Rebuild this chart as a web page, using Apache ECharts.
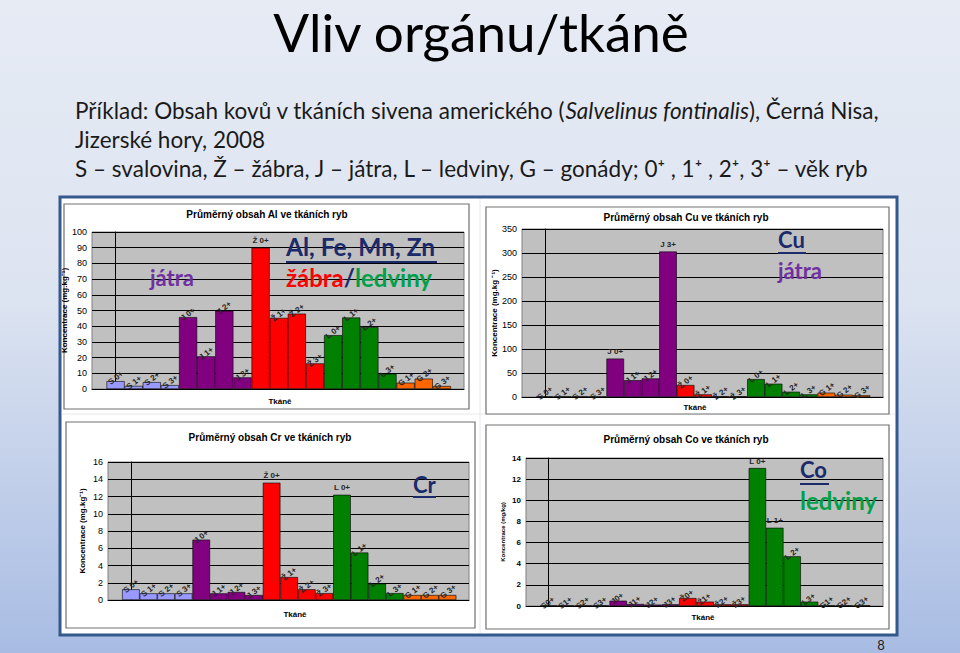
<!DOCTYPE html>
<html>
<head>
<meta charset="utf-8">
<script src="https://cdn.jsdelivr.net/npm/echarts@6/dist/echarts.min.js"></script>
<style>
  html, body { margin: 0; padding: 0; }
  #main { width: 960px; height: 653px; }
</style>
</head>
<body>
<div id="main"></div>
<script>
// kategorie (tkáň + věk)
var categories = ['S 0+','S 1+','S 2+','S 3+','J 0+','J 1+','J 2+','J 3+','Ž 0+','Ž 1+','Ž 2+','Ž 3+','L 0+','L 1+','L 2+','L 3+','G 1+','G 2+','G 3+'];
var categoriesCo = ['S0+','S1+','S2+','S3+','J0+','J1+','J2+','J3+','Ž0+','Ž1+','Ž2+','Ž3+','L 0+','L 1+','L 2+','L3+','G1+','G2+','G3+'];

// průměrné koncentrace (mg/kg)
var alValues = [5, 2, 4.4, 2.5, 45.8, 20.8, 49.8, 7.4, 90, 45.3, 48, 16.3, 34.3, 45.5, 39.4, 9.7, 4, 6.6, 1.9];
var cuValues = [1, 1, 1, 1, 80, 35, 38.7, 303, 25, 5.5, 1.5, 1.5, 37.3, 27.7, 11, 5.5, 9, 4.8, 3.5];
var crValues = [1.24, 0.77, 0.77, 0.77, 7.0, 0.77, 0.93, 0.58, 13.6, 2.66, 1.24, 0.8, 12.2, 5.5, 1.9, 0.8, 0.58, 0.58, 0.58];
var coValues = [0.05, 0.05, 0.05, 0.05, 0.5, 0.19, 0.13, 0.16, 0.75, 0.41, 0.16, 0.16, 13.05, 7.4, 4.7, 0.41, 0.06, 0.06, 0.06];

var alTicks = [0, 100, 10];
var cuTicks = [0, 350, 50];
var crTicks = [0, 16, 2];
var coTicks = [0, 14, 2];

var tissueColors = { 'S': '#9999ff', 'J': '#800080', 'Ž': '#ff0000', 'L': '#008000', 'G': '#ff6600' };

var charts = [
  { title: 'Průměrný obsah Al ve tkáních ryb', values: alValues, labels: categories, ticks: alTicks,
    yName: 'Koncentrace (mg.kg⁻¹)', flat: [8],
    grid: { left: 92, top: 232, width: 372, height: 157 }, titleXY: [267, 214], nameXY: [280, 401], fs: 9 },
  { title: 'Průměrný obsah Cu ve tkáních ryb', values: cuValues, labels: categories, ticks: cuTicks,
    yName: 'Koncentrace (mg.kg ⁻¹)', flat: [4, 7],
    grid: { left: 522, top: 229, width: 361, height: 168 }, titleXY: [686, 217], nameXY: [695, 407], fs: 9 },
  { title: 'Průměrný obsah Cr ve tkáních ryb', values: crValues, labels: categories, ticks: crTicks,
    yName: 'Koncentrace (mg.kg⁻¹)', flat: [8, 12],
    grid: { left: 108, top: 462, width: 361, height: 138 }, titleXY: [270, 437], nameXY: [295, 614], fs: 9 },
  { title: 'Průměrný obsah Co ve tkáních ryb', values: coValues, labels: categoriesCo, ticks: coTicks,
    yName: 'Koncentrace (mg/kg)', flat: [12, 13],
    grid: { left: 526, top: 458, width: 357, height: 148 }, titleXY: [686, 439], nameXY: [703, 617], fs: 8 }
];

var grids = [], xAxes = [], yAxes = [], series = [], graphics = [];

// pozadí snímku - rámeček a panely grafů
graphics.push({ type: 'rect', shape: { x: 60, y: 197, width: 837, height: 438 }, style: { fill: '#ffffff', stroke: '#34598c', lineWidth: 3 }, z: -10 });
graphics.push({ type: 'line', shape: { x1: 480, y1: 199, x2: 480, y2: 633 }, style: { stroke: '#e4e8ee', lineWidth: 1 }, z: -9 });
graphics.push({ type: 'line', shape: { x1: 62, y1: 414, x2: 895, y2: 414 }, style: { stroke: '#e4e8ee', lineWidth: 1 }, z: -9 });
var panels = [[64, 204, 405, 205], [486, 207, 403, 207], [66, 422, 409, 206], [486, 425, 403, 204]];
panels.forEach(function (p) {
  graphics.push({ type: 'rect', shape: { x: p[0], y: p[1], width: p[2], height: p[3] }, style: { fill: '#ffffff', stroke: '#707070', lineWidth: 1.2 }, z: -8 });
});

charts.forEach(function (c, i) {
  grids.push({ left: c.grid.left, top: c.grid.top, width: c.grid.width, height: c.grid.height, show: true,
    backgroundColor: '#c0c0c0', borderColor: '#808080', borderWidth: 1 });
  xAxes.push({ type: 'value', gridIndex: i, min: -1.3, max: 19.22,
    axisLine: { show: true, onZero: false, lineStyle: { color: '#000', width: 1 } },
    axisTick: { show: false }, axisLabel: { show: false }, splitLine: { show: false } });
  yAxes.push({ type: 'value', gridIndex: i, min: c.ticks[0], max: c.ticks[1], interval: c.ticks[2],
    name: c.yName, nameLocation: 'middle', nameGap: i === 3 ? 20 : 22,
    nameTextStyle: { fontFamily: 'Liberation Sans', fontWeight: 'bold', fontSize: i === 3 ? 6 : 8, color: '#000' },
    axisLine: { show: true, lineStyle: { color: '#000', width: 1 } },
    axisTick: { show: true, inside: false, length: 4, lineStyle: { color: '#000' } },
    axisLabel: { fontFamily: 'Liberation Sans', fontSize: c.fs, color: '#000', margin: 5, fontWeight: i === 3 ? 'bold' : 'normal' },
    splitLine: { show: true, lineStyle: { color: '#000', width: 1 } } });
  series.push({
    type: 'bar', xAxisIndex: i, yAxisIndex: i, barCategoryGap: '0%', barGap: '0%',
    data: c.values.map(function (v, k) {
      var d = { value: [k, v], itemStyle: { color: tissueColors[c.labels[k].charAt(0)] } };
      if (c.flat.indexOf(k) >= 0) d.label = { rotate: 0, align: 'center', verticalAlign: 'bottom', offset: [0, 0] };
      return d;
    }),
    itemStyle: { borderColor: '#000', borderWidth: 0.6 },
    label: { show: true, position: 'top', rotate: 38, distance: 3, align: 'left', verticalAlign: 'middle', offset: [-8, 0],
      fontFamily: 'Liberation Sans', fontSize: 8, fontWeight: 'bold', color: '#262626',
      formatter: function (p) { return c.labels[p.dataIndex]; } }
  });
  graphics.push({ type: 'text', x: c.titleXY[0], y: c.titleXY[1], z: 20,
    style: { text: c.title, fontFamily: 'Liberation Sans', fontWeight: 'bold', fontSize: 10, fill: '#000', align: 'center', verticalAlign: 'middle' } });
  graphics.push({ type: 'text', x: c.nameXY[0], y: c.nameXY[1], z: 20,
    style: { text: 'Tkáně', fontFamily: 'Liberation Sans', fontWeight: 'bold', fontSize: 8, fill: '#000', align: 'center', verticalAlign: 'middle' } });
});

// texty snímku
var fontSlide = 'Lato';
graphics.push({ type: 'text', x: 481, y: 31, z: 20,
  style: { text: 'Vliv orgánu/tkáně', fontFamily: fontSlide, fontSize: 53, lineHeight: 50, fill: '#000', align: 'center', verticalAlign: 'middle' } });
var bodyLines = [
  'Příklad: Obsah kovů v tkáních sivena amerického ({i|Salvelinus fontinalis}), Černá Nisa,',
  'Jizerské hory, 2008',
  'S – svalovina, Ž – žábra, J – játra, L – ledviny, G – gonády; 0⁺ , 1⁺ , 2⁺, 3⁺ – věk ryb'
];
bodyLines.forEach(function (t, k) {
  graphics.push({ type: 'text', x: 75, y: 110 + k * 29, z: 20,
    style: { text: t, fontFamily: fontSlide, fontSize: 22.5, fill: '#1a1a1a', align: 'left', verticalAlign: 'middle',
      rich: { i: { fontFamily: fontSlide, fontSize: 22.5, fontStyle: 'italic', fill: '#1a1a1a' } } } });
});
graphics.push({ type: 'text', x: 881, y: 645, z: 20,
  style: { text: '8', fontFamily: fontSlide, fontSize: 13, fill: '#222', align: 'center', verticalAlign: 'middle' } });

// popisky v grafech
var navy = '#1b2a6b', purple = '#7030a0', red = '#ff0000', green = '#00a04a';
function note(x, y, text, color, size, rich) {
  graphics.push({ type: 'text', x: x, y: y, z: 30,
    style: { text: text, fontFamily: fontSlide, fontWeight: 'bold', fontSize: size, fill: color, align: 'left', verticalAlign: 'middle', rich: rich } });
}
function underline(x1, x2, y) {
  graphics.push({ type: 'line', z: 30, shape: { x1: x1, y1: y, x2: x2, y2: y }, style: { stroke: navy, lineWidth: 2 } });
}
var richAbc = {
  r: { fontFamily: fontSlide, fontWeight: 'bold', fontSize: 24, fill: red },
  n: { fontFamily: fontSlide, fontWeight: 'bold', fontSize: 24, fill: navy },
  g: { fontFamily: fontSlide, fontWeight: 'bold', fontSize: 24, fill: green }
};
note(150, 277, 'játra', purple, 22);
note(286, 246, 'Al, Fe, Mn, Zn', navy, 24.5);
underline(286, 437, 262);
note(286, 277, '{r|žábra}{n|/}{g|ledviny}', navy, 24, richAbc);
note(778, 239, 'Cu', navy, 22);
underline(778, 806, 253);
note(778, 270, 'játra', purple, 22);
note(413, 484, 'Cr', navy, 22);
underline(413, 436, 497);
note(800, 469, 'Co', navy, 22);
underline(800, 829, 484);
note(800, 500, 'ledviny', green, 24);

var myChart = echarts.init(document.getElementById('main'), null, { renderer: 'svg' });
var option = {
  backgroundColor: {
    type: 'linear', x: 0, y: 0, x2: 0, y2: 1,
    colorStops: [{ offset: 0, color: '#e6ebf4' }, { offset: 0.45, color: '#dde4f1' }, { offset: 1, color: '#a8bce3' }]
  },
  animation: false,
  grid: grids,
  xAxis: xAxes,
  yAxis: yAxes,
  series: series,
  graphic: { elements: graphics }
};
myChart.setOption(option);
</script>
</body>
</html>
